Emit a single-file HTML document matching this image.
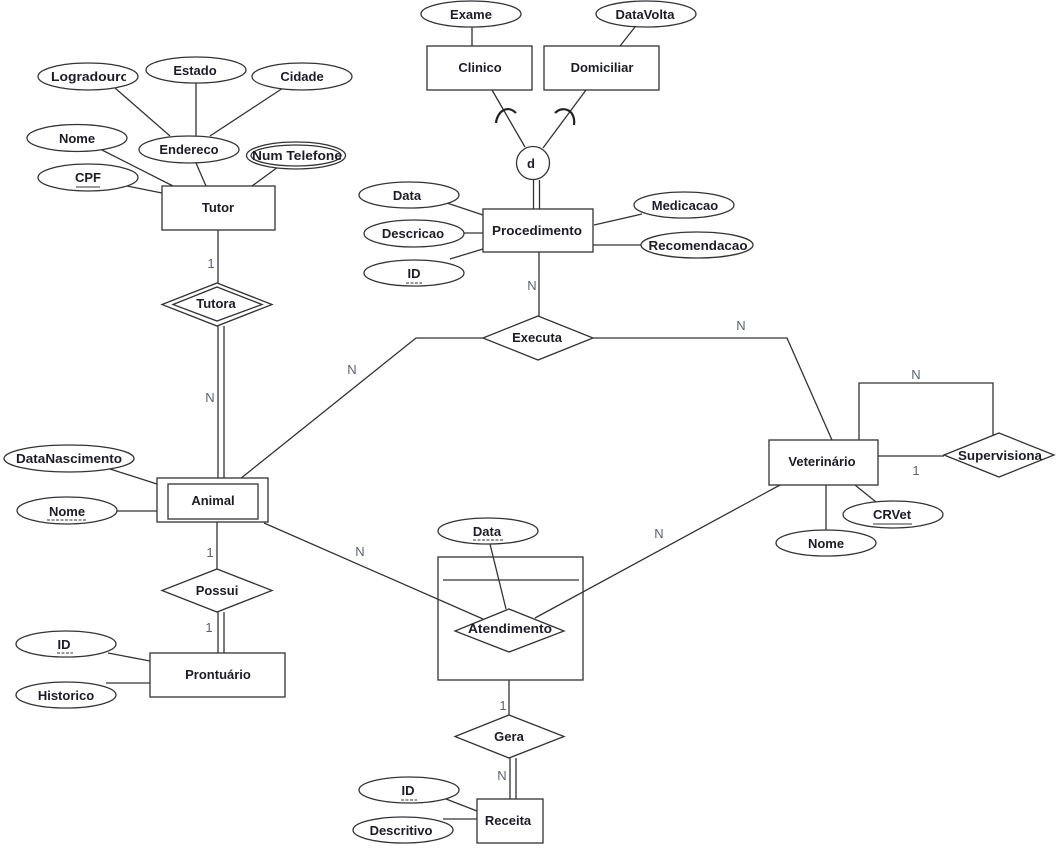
<!DOCTYPE html>
<html>
<head>
<meta charset="utf-8">
<style>
html,body{margin:0;padding:0;background:#fff;width:1060px;height:848px;overflow:hidden}
svg{display:block;filter:blur(.3px)}
.s{fill:none;stroke:#333;stroke-width:1.3}
.b{fill:#fff;stroke:#333;stroke-width:1.3}
.a{fill:none;stroke:#222;stroke-width:2.2}
text{font-family:"Liberation Sans",sans-serif;font-weight:bold;font-size:13px;fill:#1c1c28;text-anchor:middle}
text.l{font-weight:normal;font-size:13px;fill:#5a6470}
.u{stroke:#333;stroke-width:1.1;fill:none}
.d{stroke:#333;stroke-width:1.1;fill:none;stroke-dasharray:3 1.5}
</style>
</head>
<body>
<svg width="1060" height="848" viewBox="0 0 1060 848" xmlns="http://www.w3.org/2000/svg">
<defs><clipPath id="c1"><rect x="37" y="60" width="89" height="32"/></clipPath></defs>

<!-- connectors -->
<g class="s">
<path d="M115 88L170 136M196 83V136M283 88L210 136"/>
<path d="M102 150L173 186M127 186L162 193M196 163L206 186M278 167L252 186"/>
<path d="M218 230V283M218 326V478M224 326V478"/>
<path d="M472 27V46M635 27L620 46"/>
<path d="M492 90L525 147M586 90L543 148"/>
<path d="M533.500 180V209M539.500 180V209"/>
<path d="M447 203L483 215M464 233H483M450 259L483 249M594 225L642 214M593 245H641"/>
<path d="M539 252V317"/>
<path d="M483 338H416L240 479M593 338H787L832 440"/>
<path d="M110 469L157 484M117 511H157"/>
<path d="M217 522V569M218 612V653M224 612V653"/>
<path d="M108 653L150 661M106 683H150"/>
<path d="M509 680V715M510 758V799M516 758V799"/>
<path d="M446 799L477 811M443 819H477"/>
<path d="M859 440V383H993V435M878 456H944"/>
<path d="M826 485V530M855 485L876 502"/>
</g>

<!-- arcs -->
<path class="a" d="M496 123C497 112 507 104 516 113"/>
<path class="a" d="M555 113C563 105 576 110 574 125"/>

<!-- entities -->
<g class="b">
<rect x="162" y="186" width="113" height="44"/>
<rect x="427" y="46" width="105" height="44"/>
<rect x="544" y="46" width="115" height="44"/>
<rect x="483" y="209" width="110" height="43"/>
<rect x="157" y="478" width="111" height="44"/>
<rect x="168" y="484" width="90" height="35"/>
<rect x="150" y="653" width="135" height="44"/>
<rect x="477" y="799" width="66" height="44"/>
<rect x="769" y="440" width="109" height="45"/>
</g>

<!-- associative entity -->
<rect class="s" x="438" y="557" width="145" height="123"/>
<path class="s" d="M443 580H579"/>
<polygon class="b" points="509,609 564,631 509,652 455,631"/>
<path class="s" d="M264 523L483 619M535 618L780 485M490 544L506 609"/>

<!-- relationships -->
<g class="b">
<polygon points="217,283 272,304.500 217,326 162,304.500"/>
<polygon points="217,287 262,304.500 217,321 173,304.500"/>
<polygon points="538,316 593,338 538,360 483,338"/>
<polygon points="217,569 272,590.500 217,612 162,590.500"/>
<polygon points="509,715 564,736.500 509,758 455,736.500"/>
<polygon points="999,433 1054,455 999,477 944,455"/>
</g>
<circle class="b" cx="533" cy="163" r="16.500"/>

<!-- attributes -->
<g class="b">
<ellipse cx="88" cy="76.500" rx="50" ry="13.500"/>
<ellipse cx="196" cy="70" rx="50" ry="13"/>
<ellipse cx="302" cy="76.500" rx="50" ry="13.500"/>
<ellipse cx="77" cy="138" rx="50" ry="13.500"/>
<ellipse cx="189" cy="149.500" rx="50" ry="13.500"/>
<ellipse cx="88" cy="177.500" rx="50" ry="13.500"/>
<ellipse cx="296" cy="155.500" rx="49.500" ry="13.500"/>
<ellipse cx="296" cy="155.500" rx="45" ry="10.500"/>
<ellipse cx="471" cy="14" rx="50" ry="13"/>
<ellipse cx="646" cy="14" rx="50" ry="13"/>
<ellipse cx="409" cy="195" rx="50" ry="13"/>
<ellipse cx="414" cy="233.500" rx="50" ry="13.500"/>
<ellipse cx="414" cy="273" rx="50" ry="13"/>
<ellipse cx="684" cy="205" rx="50" ry="13"/>
<ellipse cx="697" cy="245" rx="56" ry="13"/>
<ellipse cx="69" cy="458.500" rx="65" ry="13.500"/>
<ellipse cx="67" cy="510.500" rx="50" ry="13.500"/>
<ellipse cx="66" cy="644" rx="50" ry="13"/>
<ellipse cx="66" cy="695" rx="50" ry="13"/>
<ellipse cx="488" cy="531" rx="50" ry="13"/>
<ellipse cx="409" cy="790" rx="50" ry="13"/>
<ellipse cx="403" cy="830" rx="50" ry="13"/>
<ellipse cx="826" cy="543" rx="50" ry="13"/>
<ellipse cx="893" cy="514.500" rx="50" ry="13.500"/>
</g>

<!-- underlines -->
<path class="u" d="M76 187H100M873 524H912"/>
<path class="d" d="M406 283H422M47 520H86M57 653H73M473 540H504M401 800H417"/>

<!-- labels -->
<text x="90" y="81" clip-path="url(#c1)" textLength="78" lengthAdjust="spacingAndGlyphs">Logradouro</text>
<text x="195" y="75">Estado</text>
<text x="302" y="81">Cidade</text>
<text x="77" y="143">Nome</text>
<text x="189" y="154">Endereco</text>
<text x="88" y="182">CPF</text>
<text x="297" y="160" textLength="90" lengthAdjust="spacingAndGlyphs">Num Telefone</text>
<text x="218" y="212">Tutor</text>
<text x="216" y="308">Tutora</text>
<text x="471" y="19">Exame</text>
<text x="645" y="19">DataVolta</text>
<text x="480" y="72">Clinico</text>
<text x="602" y="72">Domiciliar</text>
<text x="531" y="168">d</text>
<text x="407" y="200">Data</text>
<text x="413" y="238">Descricao</text>
<text x="414" y="278">ID</text>
<text x="685" y="210">Medicacao</text>
<text x="698" y="250" textLength="99" lengthAdjust="spacingAndGlyphs">Recomendacao</text>
<text x="537" y="235" textLength="90" lengthAdjust="spacingAndGlyphs">Procedimento</text>
<text x="537" y="342">Executa</text>
<text x="69" y="463" textLength="106" lengthAdjust="spacingAndGlyphs">DataNascimento</text>
<text x="67" y="516">Nome</text>
<text x="213" y="505">Animal</text>
<text x="217" y="595">Possui</text>
<text x="218" y="679">Prontuário</text>
<text x="64" y="649">ID</text>
<text x="66" y="700">Historico</text>
<text x="487" y="536">Data</text>
<text x="510" y="633" textLength="84" lengthAdjust="spacingAndGlyphs">Atendimento</text>
<text x="509" y="741">Gera</text>
<text x="508" y="825">Receita</text>
<text x="408" y="795">ID</text>
<text x="401" y="835">Descritivo</text>
<text x="822" y="466">Veterinário</text>
<text x="1000" y="460" textLength="84" lengthAdjust="spacingAndGlyphs">Supervisiona</text>
<text x="826" y="548">Nome</text>
<text x="892" y="519">CRVet</text>

<!-- cardinalities -->
<text class="l" x="211" y="268">1</text>
<text class="l" x="210" y="402">N</text>
<text class="l" x="532" y="290">N</text>
<text class="l" x="352" y="374">N</text>
<text class="l" x="741" y="330">N</text>
<text class="l" x="916" y="379">N</text>
<text class="l" x="916" y="475">1</text>
<text class="l" x="210" y="557">1</text>
<text class="l" x="209" y="632">1</text>
<text class="l" x="360" y="556">N</text>
<text class="l" x="659" y="538">N</text>
<text class="l" x="503" y="710">1</text>
<text class="l" x="502" y="780">N</text>
</svg>
</body>
</html>
